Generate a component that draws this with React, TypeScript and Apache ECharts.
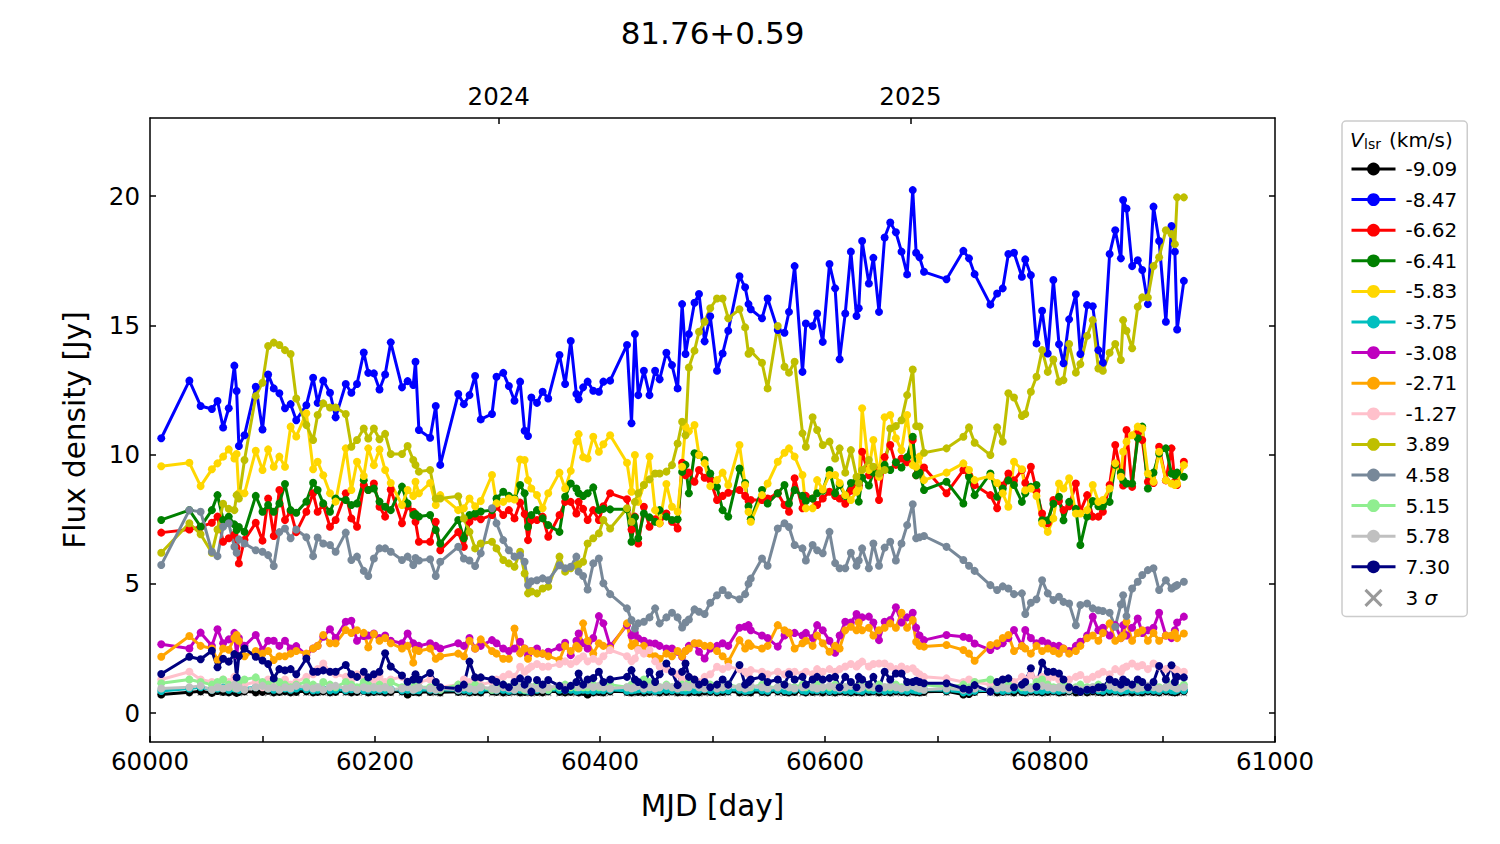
import React, { useEffect, useRef } from "react";
import * as echarts from "echarts";

const FONT = "DejaVu Sans";

const TITLE = "81.76+0.59";
const X_NAME = "MJD [day]";
const Y_NAME = "Flux density [Jy]";
const X_TICKS = [60000, 60100, 60200, 60300, 60400, 60500, 60600, 60700, 60800, 60900, 61000];
const X_LABELS = [60000, 60200, 60400, 60600, 60800, 61000];
const Y_TICKS = [0, 5, 10, 15, 20];
const YEAR_MJD = [60310, 60676];
const YEAR_LABELS = ["2024", "2025"];

const MJD = [
  60010, 60035, 60045, 60055, 60060, 60065, 60070, 60075, 60077, 60079,
  60084, 60094, 60100, 60105, 60110, 60115, 60120, 60125, 60130, 60139,
  60145, 60149, 60154, 60160, 60165, 60174, 60179, 60184, 60190, 60194,
  60199, 60204, 60209, 60214, 60224, 60229, 60234, 60236, 60239, 60249,
  60254, 60258, 60274, 60279, 60284, 60289, 60294, 60304, 60308, 60314,
  60319, 60324, 60329, 60333, 60336, 60339, 60344, 60349, 60354, 60364,
  60369, 60374, 60379, 60381, 60385, 60389, 60394, 60399, 60403, 60409,
  60424, 60428, 60431, 60434, 60439, 60444, 60449, 60453, 60459, 60464,
  60469, 60473, 60476, 60479, 60484, 60488, 60493, 60498, 60504, 60509,
  60514, 60524, 60529, 60532, 60534, 60544, 60549, 60558, 60564, 60568,
  60573, 60580, 60583, 60589, 60593, 60598, 60604, 60609, 60613, 60618,
  60623, 60628, 60630, 60633, 60639, 60643, 60648, 60653, 60658, 60663,
  60668, 60673, 60678, 60681, 60684, 60688, 60708, 60723, 60728, 60733,
  60747, 60753, 60758, 60763, 60768, 60775, 60778, 60783, 60788, 60793,
  60798, 60803, 60808, 60812, 60817, 60823, 60827, 60833, 60838, 60843,
  60847, 60853, 60858, 60863, 60865, 60868, 60873, 60878, 60882, 60887,
  60892, 60897, 60903, 60908, 60911, 60913, 60919,
];

const V_M909 = [
  0.72, 0.8, 0.84, 0.78, 0.85, 0.82, 0.8, 0.84, 0.78, 0.82,
  0.84, 0.8, 0.82, 0.86, 0.8, 0.82, 0.84, 0.8, 0.82, 0.84,
  0.8, 0.82, 0.84, 0.8, 0.82, 0.84, 0.8, 0.82, 0.86, 0.8,
  0.82, 0.84, 0.8, 0.82, 0.84, 0.72, 0.82, 0.84, 0.8, 0.82,
  0.84, 0.8, 0.82, 0.84, 0.8, 0.82, 0.8, 0.84, 0.82, 0.8,
  0.82, 0.84, 0.8, 0.82, 0.84, 0.8, 0.82, 0.8, 0.84, 0.82,
  0.8, 0.82, 0.84, 0.8, 0.82, 0.72, 0.8, 0.82, 0.8, 0.84,
  0.82, 0.8, 0.84, 0.82, 0.8, 0.82, 0.84, 0.8, 0.82, 0.84,
  0.8, 0.82, 0.84, 0.8, 0.82, 0.8, 0.84, 0.82, 0.8, 0.82,
  0.84, 0.8, 0.82, 0.84, 0.8, 0.82, 0.8, 0.84, 0.82, 0.8,
  0.82, 0.84, 0.8, 0.82, 0.84, 0.8, 0.82, 0.8, 0.84, 0.82,
  0.8, 0.82, 0.84, 0.8, 0.82, 0.84, 0.8, 0.82, 0.8, 0.84,
  0.82, 0.8, 0.84, 0.82, 0.8, 0.82, 0.84, 0.72, 0.74, 0.82,
  0.84, 0.8, 0.82, 0.84, 0.8, 0.82, 0.8, 0.84, 0.82, 0.8,
  0.82, 0.84, 0.8, 0.82, 0.84, 0.8, 0.82, 0.8, 0.84, 0.82,
  0.8, 0.82, 0.84, 0.8, 0.82, 0.84, 0.8, 0.82, 0.8, 0.84,
  0.82, 0.8, 0.84, 0.82, 0.8, 0.82, 0.84,
];

const V_M847 = [
  10.63, 12.86, 11.88, 11.76, 12.07, 11.05, 11.79, 13.44, 12.46, 10.33,
  10.75, 12.62, 10.97, 13.1, 12.56, 12.37, 11.79, 11.95, 11.33, 11.91,
  12.97, 12.0, 12.86, 12.39, 11.44, 12.73, 12.39, 12.73, 13.95, 13.16,
  13.14, 12.52, 13.1, 14.34, 12.6, 12.84, 12.69, 13.59, 10.95, 10.65,
  11.88, 9.6, 12.34, 11.95, 12.3, 13.04, 11.36, 11.57, 13.01, 13.16,
  12.65, 12.08, 12.82, 10.92, 10.72, 12.21, 12.0, 12.43, 12.17, 13.85,
  12.73, 14.39, 12.34, 12.14, 12.6, 12.82, 12.47, 12.43, 12.82, 12.86,
  14.24, 11.21, 14.66, 12.3, 13.24, 12.3, 13.24, 12.91, 13.94, 13.46,
  12.56, 15.82, 13.89, 14.66, 15.87, 16.21, 14.38, 15.35, 13.24, 13.91,
  14.79, 16.9, 16.47, 15.82, 15.62, 15.27, 16.04, 14.82, 14.71, 15.52,
  17.29, 13.2, 15.07, 14.97, 15.46, 14.36, 17.37, 16.43, 13.69, 15.46,
  17.85, 15.36, 15.66, 18.26, 16.62, 17.61, 15.52, 18.4, 18.98, 18.6,
  17.85, 16.97, 20.23, 17.81, 17.63, 17.07, 16.78, 17.88, 17.59, 16.98,
  15.8, 16.23, 16.43, 17.76, 17.81, 16.88, 17.55, 16.94, 14.3, 15.56,
  13.91, 16.75, 14.27, 13.53, 15.23, 16.2, 13.89, 15.78, 15.74, 14.04,
  13.55, 17.76, 18.68, 17.59, 19.85, 19.52, 17.29, 17.52, 17.14, 15.82,
  19.59, 18.26, 15.14, 18.84, 17.85, 14.84, 16.72,
];

const V_M662 = [
  6.98, 7.1, 7.2, 7.36, 7.6, 6.63, 6.76, 6.9, 6.4, 5.79,
  6.7, 7.36, 6.67, 8.3, 6.85, 8.63, 7.47, 7.8, 7.0, 7.79,
  8.5, 7.79, 8.05, 7.21, 7.47, 8.5, 7.53, 7.21, 8.82, 8.63,
  8.88, 7.98, 7.6, 8.65, 7.34, 8.0, 7.79, 7.4, 6.63, 6.63,
  7.4, 6.3, 7.0, 6.43, 7.4, 7.6, 7.5, 7.66, 7.98, 7.66,
  7.85, 7.53, 8.14, 7.7, 6.69, 7.47, 7.47, 7.6, 6.82, 7.66,
  8.17, 8.17, 7.72, 8.17, 7.9, 7.47, 7.85, 7.47, 8.0, 8.5,
  8.27, 7.1, 7.6, 6.56, 7.98, 7.21, 7.5, 7.34, 7.72, 7.4,
  7.14, 9.68, 9.2, 9.3, 8.95, 9.4, 9.1, 9.01, 8.24, 8.4,
  8.52, 8.63, 8.4, 8.2, 8.24, 8.24, 8.3, 8.5, 8.05, 7.79,
  9.08, 7.92, 8.4, 8.3, 8.05, 8.3, 8.56, 8.4, 8.3, 8.1,
  8.6, 8.9, 8.8, 10.11, 9.2, 9.5, 8.24, 9.9, 10.37, 9.6,
  9.85, 9.7, 10.56, 9.2, 9.3, 9.5, 8.5, 9.4, 9.2, 8.82,
  8.43, 7.92, 8.8, 9.27, 9.0, 9.4, 8.9, 9.53, 8.6, 7.72,
  7.34, 8.24, 8.2, 7.85, 8.0, 8.88, 7.8, 8.43, 7.6, 7.6,
  7.79, 8.82, 10.37, 9.27, 8.8, 10.95, 8.75, 10.82, 10.56, 8.95,
  8.9, 10.3, 9.0, 10.24, 8.95, 8.82, 9.72,
];

const V_M641 = [
  7.47, 7.85, 7.21, 7.85, 8.43, 7.47, 7.6, 7.3, 7.08, 7.2,
  7.01, 8.4, 7.79, 8.05, 7.79, 8.11, 8.86, 7.85, 7.75, 8.18,
  8.91, 8.63, 8.11, 7.79, 8.3, 8.24, 8.05, 8.11, 9.01, 8.63,
  8.69, 8.18, 7.98, 7.85, 8.76, 8.11, 7.66, 7.7, 7.6, 7.66,
  7.08, 6.56, 7.47, 6.76, 7.66, 7.72, 7.8, 7.85, 8.3, 8.56,
  8.4, 8.3, 8.82, 8.5, 7.21, 7.66, 7.85, 7.53, 7.27, 7.01,
  8.37, 8.88, 8.69, 8.5, 8.4, 8.5, 8.73, 7.85, 7.9, 7.88,
  7.88, 6.63, 7.57, 6.76, 7.72, 7.57, 7.4, 7.85, 7.6, 7.47,
  7.5, 9.33, 9.6, 8.5, 10.05, 9.98, 9.79, 9.27, 8.75, 7.85,
  7.6, 9.46, 8.9, 8.0, 7.5, 8.63, 8.11, 8.5, 8.82, 8.11,
  8.63, 8.4, 8.2, 8.3, 8.5, 8.6, 9.4, 8.5, 8.82, 8.4,
  8.9, 9.0, 8.18, 9.1, 8.8, 9.3, 9.2, 9.6, 9.4, 9.7,
  9.5, 9.9, 10.69, 9.2, 9.3, 8.63, 8.95, 8.11, 9.14, 8.43,
  9.27, 8.37, 8.69, 9.0, 8.82, 8.17, 8.5, 8.75, 8.82, 7.46,
  7.46, 8.1, 8.37, 7.46, 8.17, 7.9, 6.5, 7.6, 8.2, 8.0,
  8.0, 8.17, 9.6, 9.3, 9.0, 8.88, 8.88, 10.63, 11.08, 8.69,
  9.3, 10.04, 10.24, 9.27, 9.2, 9.3, 9.14,
];

const V_M583 = [
  9.55, 9.68, 8.78, 9.43, 9.66, 9.92, 10.2, 9.85, 10.02, 8.5,
  8.5, 10.15, 9.4, 10.2, 9.53, 9.92, 9.53, 11.08, 10.7, 11.6,
  9.43, 9.72, 9.2, 8.5, 8.18, 10.24, 8.63, 9.72, 9.17, 10.24,
  9.59, 10.2, 9.4, 8.9, 8.05, 8.63, 8.4, 8.95, 8.5, 8.9,
  8.05, 8.43, 7.85, 7.92, 8.3, 8.0, 8.2, 9.21, 8.11, 8.17,
  8.3, 8.26, 9.81, 9.79, 9.01, 8.69, 8.43, 7.92, 8.5, 9.3,
  8.69, 9.37, 10.5, 10.79, 9.9, 9.85, 10.69, 10.11, 10.4, 10.75,
  9.68, 8.56, 9.98, 8.17, 8.82, 9.92, 7.85, 7.34, 8.86, 7.98,
  7.79, 9.53, 11.08, 10.9, 11.14, 9.98, 9.66, 8.78, 9.01, 9.3,
  8.82, 10.37, 8.82, 7.79, 7.4, 8.43, 8.88, 9.72, 10.07, 10.24,
  9.92, 9.21, 7.92, 7.92, 9.01, 8.65, 9.21, 9.21, 8.9, 8.43,
  8.24, 8.56, 8.7, 11.79, 9.4, 10.56, 9.14, 11.44, 11.53, 10.63,
  10.17, 11.53, 9.59, 9.53, 9.92, 9.01, 9.3, 9.66, 9.4, 9.01,
  9.17, 8.9, 8.5, 7.98, 9.72, 9.43, 8.62, 8.69, 8.4, 7.34,
  7.01, 7.53, 8.88, 8.69, 9.08, 7.72, 7.72, 7.85, 8.82, 8.17,
  8.24, 8.69, 9.66, 9.14, 10.11, 10.5, 10.75, 11.08, 11.01, 9.27,
  8.95, 10.11, 9.01, 8.88, 8.82, 8.88, 9.59,
];

const V_M375 = [
  0.85, 0.95, 1.0, 0.9, 0.95, 1.0, 0.9, 0.95, 1.0, 0.9,
  0.95, 1.0, 1.02, 0.95, 0.9, 1.0, 0.95, 0.9, 0.95, 0.92,
  0.88, 0.9, 0.92, 0.88, 0.9, 0.88, 0.92, 0.9, 0.88, 0.9,
  0.88, 0.9, 0.88, 0.92, 0.88, 0.9, 0.88, 0.9, 0.88, 0.9,
  0.88, 0.9, 0.88, 0.9, 0.86, 0.9, 0.88, 0.9, 0.88, 0.9,
  0.86, 0.88, 0.9, 0.88, 0.86, 0.88, 0.9, 0.92, 0.88, 0.9,
  0.88, 0.9, 0.86, 0.88, 0.9, 0.88, 0.86, 0.9, 0.88, 0.9,
  0.86, 0.88, 0.9, 0.92, 0.88, 0.9, 0.86, 0.88, 0.9, 0.88,
  0.9, 0.88, 0.86, 0.9, 0.88, 0.9, 0.92, 0.88, 0.86, 0.9,
  0.88, 0.9, 0.86, 0.88, 0.9, 0.88, 0.86, 0.9, 0.88, 0.86,
  0.9, 0.88, 0.86, 0.9, 0.88, 0.9, 0.86, 0.88, 0.9, 0.88,
  0.86, 0.9, 0.88, 0.86, 0.9, 0.88, 0.9, 0.86, 0.88, 0.9,
  0.88, 0.86, 0.9, 0.88, 0.86, 0.9, 0.88, 0.8, 0.82, 0.86,
  0.88, 0.9, 0.86, 0.88, 0.9, 0.88, 0.86, 0.9, 0.88, 0.86,
  0.9, 0.88, 0.86, 0.9, 0.88, 0.9, 0.86, 0.88, 0.9, 0.88,
  0.86, 0.9, 0.88, 0.86, 0.9, 0.88, 0.9, 0.86, 0.88, 0.9,
  0.88, 0.86, 0.9, 0.88, 0.86, 0.9, 0.88,
];

const V_M308 = [
  2.66, 2.5, 3.11, 2.6, 3.24, 2.7, 2.85, 3.1, 2.24, 2.9,
  2.6, 3.02, 2.44, 2.8, 2.8, 2.6, 2.8, 2.5, 2.59, 2.24,
  2.5, 2.6, 2.95, 3.24, 2.9, 3.53, 3.57, 2.8, 2.98, 3.0,
  3.08, 2.9, 3.0, 2.8, 2.7, 3.08, 2.7, 2.6, 2.6, 2.7,
  2.6, 2.5, 2.7, 2.6, 2.9, 2.5, 2.6, 2.82, 2.7, 2.5,
  2.4, 2.5, 2.76, 2.5, 2.24, 2.4, 2.5, 2.3, 2.37, 2.54,
  2.72, 2.24, 2.8, 3.08, 2.7, 2.5, 2.9, 3.75, 3.47, 2.59,
  3.4, 3.0, 3.1, 2.89, 2.8, 2.7, 2.69, 2.6, 2.5, 2.5,
  2.37, 2.18, 2.4, 2.6, 2.69, 2.37, 2.11, 2.5, 2.6, 2.7,
  2.6, 3.3, 3.34, 3.4, 3.2, 3.0, 2.9, 2.57, 3.0, 3.1,
  3.1, 3.0, 3.1, 2.9, 3.4, 3.2, 2.8, 2.33, 3.0, 3.53,
  3.5, 3.83, 3.6, 3.7, 3.73, 3.5, 2.82, 3.53, 3.6, 4.09,
  3.5, 3.7, 3.88, 3.3, 3.0, 2.82, 3.02, 2.95, 2.9, 2.69,
  2.44, 2.6, 2.7, 2.9, 3.21, 2.6, 3.21, 2.9, 2.7, 2.8,
  2.7, 2.6, 2.6, 2.5, 2.4, 2.6, 2.76, 3.0, 3.73, 3.2,
  3.3, 3.0, 3.4, 2.9, 3.4, 3.0, 3.3, 3.66, 3.1, 3.2,
  3.3, 3.88, 3.0, 2.9, 3.2, 3.5, 3.73,
];

const V_M271 = [
  2.18, 2.98, 2.6, 2.5, 2.05, 2.5, 2.45, 2.9, 3.02, 2.8,
  2.2, 2.4, 2.3, 2.4, 2.05, 2.2, 2.2, 2.3, 2.4, 2.3,
  2.5, 2.6, 3.02, 2.7, 2.7, 3.21, 3.1, 3.2, 3.1, 2.54,
  3.06, 2.8, 2.9, 2.7, 2.5, 2.6, 1.95, 2.44, 2.4, 2.5,
  2.1, 2.2, 2.3, 2.2, 2.8, 2.5, 2.85, 2.4, 2.3, 2.1,
  2.1, 3.27, 2.31, 2.5, 2.1, 2.4, 2.3, 2.3, 2.2, 2.05,
  2.6, 2.4, 2.6, 2.5, 3.47, 2.8, 2.3, 2.7, 2.6, 2.5,
  3.47, 2.6, 2.7, 2.5, 2.6, 2.3, 2.2, 2.1, 2.3, 2.2,
  2.4, 2.2, 2.4, 2.5, 2.7, 2.7, 2.6, 2.6, 2.4, 2.2,
  1.99, 2.82, 2.5, 2.7, 2.6, 2.5, 2.6, 3.4, 3.2, 3.1,
  2.5, 2.7, 2.8, 2.6, 3.0, 2.7, 2.37, 2.6, 2.5, 3.2,
  3.34, 3.2, 3.5, 3.2, 3.3, 3.0, 3.2, 3.3, 3.47, 3.3,
  3.88, 3.3, 3.6, 2.76, 2.6, 2.57, 2.63, 2.44, 2.3, 2.02,
  2.63, 2.7, 2.9, 3.02, 2.4, 2.6, 2.5, 2.3, 2.6, 2.4,
  2.5, 2.4, 2.3, 2.5, 2.3, 2.4, 2.6, 2.9, 3.0, 2.8,
  3.1, 3.47, 2.8, 2.9, 3.0, 3.53, 2.8, 3.1, 3.2, 2.8,
  3.1, 2.8, 3.0, 3.0, 3.1, 2.9, 3.08,
];

const V_M127 = [
  1.3, 1.6, 1.3, 1.2, 1.1, 1.3, 1.2, 1.4, 1.3, 1.2,
  1.1, 1.2, 1.0, 1.3, 1.1, 1.2, 1.3, 1.1, 1.2, 1.4,
  1.5, 1.7, 1.92, 1.6, 1.5, 1.4, 1.3, 1.5, 1.4, 1.3,
  1.2, 1.4, 1.2, 1.3, 1.4, 1.2, 1.3, 1.1, 1.2, 1.3,
  1.2, 1.0, 1.1, 1.3, 1.2, 1.3, 1.1, 1.2, 1.3, 1.4,
  1.5, 1.4, 1.79, 1.6, 1.7, 1.8, 1.9, 1.79, 1.8, 1.9,
  2.0, 1.9, 2.0, 2.1, 2.2, 2.0, 2.1, 2.0, 2.2, 2.44,
  2.2, 2.0, 2.11, 2.44, 2.3, 2.44, 2.0, 1.8, 1.7, 1.6,
  1.5, 1.3, 1.2, 1.4, 1.3, 1.2, 1.4, 1.5, 1.79, 1.7,
  1.79, 1.7, 1.6, 1.5, 1.66, 1.6, 1.5, 1.6, 1.5, 1.6,
  1.6, 1.5, 1.6, 1.5, 1.7, 1.6, 1.7, 1.6, 1.7, 1.8,
  1.9, 1.8, 1.9, 1.99, 1.8, 1.9, 1.92, 1.92, 1.8, 1.7,
  1.8, 1.7, 1.73, 1.6, 1.5, 1.4, 1.34, 1.2, 1.3, 1.2,
  1.1, 1.2, 1.3, 1.3, 1.2, 1.4, 1.3, 1.47, 1.3, 1.4,
  1.3, 1.4, 1.3, 1.2, 1.3, 1.4, 1.47, 1.3, 1.4, 1.5,
  1.6, 1.5, 1.7, 1.6, 1.73, 1.8, 1.92, 1.8, 1.86, 1.7,
  1.92, 1.8, 1.7, 1.79, 1.7, 1.66, 1.6,
];

const V_P389 = [
  6.2, 7.34, 6.92, 6.2, 7.1, 8.1, 7.9, 7.85, 8.43, 8.3,
  9.79, 12.26, 12.78, 14.2, 14.33, 14.24, 14.04, 13.89, 12.17, 11.14,
  10.56, 11.53, 11.98, 11.82, 11.82, 11.57, 10.3, 10.56, 11.01, 10.62,
  11.01, 10.59, 10.8, 10.02, 10.02, 10.33, 9.79, 9.6, 9.34, 9.4,
  8.3, 8.3, 8.39, 7.53, 7.01, 6.37, 6.56, 6.63, 6.37, 5.92,
  5.79, 5.66, 6.24, 5.4, 4.63, 4.7, 4.63, 4.82, 4.89, 6.05,
  5.47, 5.6, 5.7, 5.75, 5.85, 6.56, 6.76, 6.95, 7.47, 7.14,
  7.92, 7.4, 8.17, 8.5, 8.82, 9.04, 9.27, 9.27, 9.34, 9.59,
  10.43, 11.27, 10.75, 13.37, 14.02, 14.75, 15.14, 15.66, 16.04, 16.04,
  15.27, 15.62, 14.92, 13.9, 14.0, 13.55, 12.56, 14.97, 13.4, 13.17,
  13.59, 10.82, 10.3, 11.44, 10.95, 10.37, 10.5, 9.85, 10.24, 9.3,
  10.17, 9.14, 8.89, 9.4, 9.79, 9.53, 9.27, 9.4, 11.01, 11.1,
  11.33, 12.3, 13.29, 11.1, 11.08, 10.07, 10.24, 10.69, 11.05, 10.46,
  9.98, 11.05, 10.5, 12.37, 12.21, 11.49, 11.57, 12.43, 13.01, 14.04,
  13.2, 13.68, 12.82, 12.88, 14.28, 13.17, 13.5, 14.59, 15.2, 13.33,
  13.24, 13.94, 14.28, 13.66, 15.2, 14.79, 14.11, 15.72, 16.08, 16.08,
  17.29, 17.63, 18.68, 18.53, 18.14, 19.95, 19.95,
];

const V_P458 = [
  5.73, 7.85, 7.79, 6.24, 6.07, 7.21, 7.34, 6.43, 6.2, 6.72,
  6.56, 6.3, 6.24, 6.11, 5.69, 7.0, 7.14, 6.76, 7.1, 6.8,
  6.07, 6.79, 6.56, 6.5, 6.24, 6.98, 5.92, 6.05, 5.5, 5.3,
  5.98, 6.37, 6.37, 6.24, 5.92, 6.05, 5.73, 6.0, 5.9, 5.95,
  5.3, 5.85, 6.43, 5.98, 5.9, 5.69, 6.18, 7.92, 7.34, 6.69,
  6.3, 6.05, 6.1, 5.85, 4.95, 5.1, 5.14, 5.21, 5.14, 5.72,
  5.6, 5.66, 6.05, 5.47, 5.3, 4.78, 5.79, 5.98, 5.02, 4.6,
  4.05, 3.6, 3.27, 3.47, 3.53, 3.7, 4.05, 3.47, 3.7, 3.88,
  3.7, 3.31, 3.5, 3.62, 4.01, 3.92, 3.83, 4.27, 4.56, 4.76,
  4.56, 4.4, 4.6, 5.0, 5.2, 5.98, 5.7, 7.14, 7.34, 7.2,
  6.5, 6.37, 5.9, 6.5, 6.3, 6.18, 7.01, 5.8, 5.6, 5.6,
  6.2, 5.7, 5.9, 6.37, 5.6, 6.56, 5.7, 6.4, 6.63, 5.9,
  6.56, 7.27, 8.08, 6.76, 6.8, 6.85, 6.43, 5.92, 5.7, 5.5,
  4.95, 4.76, 4.9, 4.82, 4.6, 4.63, 3.83, 4.27, 4.4, 5.14,
  4.63, 4.37, 4.5, 4.3, 4.24, 3.4, 4.18, 4.24, 4.05, 3.98,
  3.95, 3.88, 3.34, 4.2, 4.56, 3.75, 4.82, 5.08, 5.34, 5.53,
  5.6, 4.76, 5.14, 4.82, 4.9, 4.95, 5.08,
];

const V_P515 = [
  1.15, 1.3, 1.2, 1.1, 1.2, 1.3, 1.1, 1.0, 1.1, 1.2,
  1.3, 1.38, 1.2, 1.1, 1.3, 1.2, 1.1, 1.0, 1.1, 1.2,
  1.1, 1.0, 1.2, 1.1, 1.0, 1.2, 1.1, 1.0, 1.2, 1.1,
  1.0, 1.1, 1.0, 1.2, 1.0, 1.1, 1.0, 1.1, 1.0, 1.0,
  1.0, 0.9, 1.1, 1.0, 1.0, 1.1, 1.0, 0.9, 1.0, 1.1,
  1.0, 1.1, 1.0, 0.9, 1.0, 1.0, 1.1, 1.0, 0.9, 1.0,
  1.1, 1.0, 1.0, 1.1, 1.0, 1.0, 1.1, 1.0, 1.0, 1.1,
  1.0, 1.1, 1.0, 1.1, 1.3, 1.2, 1.1, 1.0, 1.1, 1.0,
  1.0, 1.1, 1.0, 1.2, 1.1, 1.0, 1.0, 1.1, 1.0, 1.0,
  1.1, 1.0, 1.0, 1.1, 1.0, 1.1, 1.0, 1.0, 1.1, 1.0,
  1.0, 1.1, 1.0, 1.0, 1.1, 1.0, 1.0, 1.1, 1.0, 1.0,
  1.1, 1.0, 1.0, 1.1, 1.0, 1.0, 1.1, 1.0, 1.0, 1.1,
  1.0, 1.0, 1.1, 1.0, 1.0, 1.1, 1.0, 1.1, 1.0, 1.2,
  1.3, 1.0, 1.0, 1.1, 1.0, 1.0, 1.1, 1.0, 1.2, 1.3,
  1.1, 1.0, 1.0, 1.1, 1.0, 1.0, 1.1, 1.0, 1.0, 1.1,
  1.0, 1.1, 1.0, 1.0, 1.1, 1.2, 1.0, 1.1, 1.0, 1.0,
  1.1, 1.0, 1.0, 1.1, 1.0, 1.0, 1.1,
];

const V_P578 = [
  0.95, 1.0, 1.05, 0.9, 1.0, 0.95, 1.0, 1.1, 0.95, 1.0,
  0.9, 1.0, 1.05, 0.95, 1.0, 0.9, 1.0, 0.95, 1.05, 1.0,
  0.95, 1.0, 0.9, 1.0, 1.05, 0.95, 1.0, 0.9, 1.0, 0.95,
  1.0, 0.95, 1.0, 0.9, 0.95, 1.0, 0.9, 0.95, 1.0, 0.95,
  0.9, 0.95, 0.9, 1.0, 0.95, 0.9, 1.0, 0.95, 0.9, 1.0,
  0.95, 0.9, 1.0, 0.95, 0.9, 1.0, 0.95, 0.9, 1.0, 1.05,
  1.0, 1.05, 1.1, 1.0, 1.05, 1.1, 1.0, 1.05, 1.0, 0.95,
  1.0, 0.95, 1.0, 1.05, 0.95, 1.0, 0.95, 1.0, 1.05, 1.0,
  0.95, 1.0, 1.05, 1.0, 1.1, 1.0, 0.95, 1.0, 0.95, 1.0,
  1.05, 1.0, 0.95, 1.0, 1.05, 1.0, 0.95, 1.0, 1.05, 1.0,
  0.95, 1.0, 1.05, 1.0, 0.95, 1.0, 1.05, 1.0, 0.95, 1.0,
  1.05, 1.0, 0.95, 1.0, 1.05, 1.0, 0.95, 1.0, 1.05, 1.0,
  0.95, 1.0, 1.05, 1.0, 0.95, 0.9, 0.95, 0.9, 0.9, 0.95,
  0.9, 0.95, 1.0, 0.95, 1.0, 1.05, 1.0, 0.95, 1.0, 1.05,
  1.0, 0.95, 1.0, 0.95, 0.9, 0.95, 0.9, 0.95, 1.0, 0.95,
  1.0, 1.05, 1.0, 0.95, 1.0, 1.05, 1.0, 0.95, 1.0, 1.05,
  1.0, 0.95, 1.0, 1.05, 1.0, 0.95, 1.0,
];

const V_P730 = [
  1.51, 2.18, 2.08, 2.41, 1.77, 2.1, 1.99, 2.28, 1.38, 2.2,
  2.5, 2.18, 2.03, 1.9, 1.34, 1.7, 1.65, 1.7, 1.5, 2.11,
  1.6, 1.6, 1.65, 1.6, 1.6, 1.86, 1.5, 1.4, 1.6, 1.38,
  1.5, 1.6, 2.31, 1.8, 1.45, 1.21, 1.3, 1.5, 1.3, 1.55,
  1.2, 1.0, 0.95, 1.1, 1.99, 1.38, 1.38, 1.3, 1.2, 1.1,
  1.0, 1.2, 1.34, 1.1, 1.3, 0.83, 1.28, 1.1, 1.28, 1.05,
  0.89, 1.05, 1.2, 1.53, 1.1, 1.3, 1.35, 1.6, 1.2, 1.3,
  1.4, 1.66, 1.3, 1.2, 1.1, 1.6, 1.2, 1.5, 1.92, 1.6,
  1.08, 1.6, 1.92, 1.4, 1.3, 1.1, 1.2, 1.0, 1.1, 1.3,
  1.1, 1.86, 1.1, 1.2, 1.3, 1.4, 1.2, 1.3, 1.1, 1.5,
  1.3, 1.4, 1.1, 1.3, 1.4, 1.3, 1.35, 1.4, 1.0, 1.4,
  1.2, 1.0, 1.4, 1.3, 1.1, 1.4, 0.95, 1.6, 1.3, 1.53,
  1.53, 1.2, 1.2, 1.25, 1.2, 1.15, 1.15, 0.95, 0.9, 1.08,
  0.83, 1.2, 1.3, 1.34, 1.0, 1.1, 1.2, 1.73, 1.02, 1.95,
  1.6, 1.6, 1.53, 1.3, 1.0, 0.9, 0.83, 0.9, 0.9, 1.0,
  1.0, 1.3, 1.2, 1.1, 1.3, 1.2, 1.1, 1.3, 1.2, 1.0,
  1.2, 1.82, 1.3, 1.85, 1.2, 1.4, 1.38,
];

const V_SIGMA3 = [
  0.78, 0.8, 0.79, 0.77, 0.8, 0.78, 0.79, 0.8, 0.78, 0.77,
  0.79, 0.78, 0.8, 0.77, 0.79, 0.78, 0.8, 0.79, 0.77, 0.78,
  0.8, 0.78, 0.79, 0.77, 0.8, 0.78, 0.79, 0.8, 0.78, 0.77,
  0.79, 0.78, 0.8, 0.77, 0.79, 0.78, 0.8, 0.79, 0.77, 0.78,
  0.77, 0.76, 0.78, 0.77, 0.76, 0.78, 0.77, 0.76, 0.78, 0.77,
  0.76, 0.78, 0.77, 0.76, 0.78, 0.77, 0.76, 0.78, 0.77, 0.76,
  0.78, 0.77, 0.76, 0.78, 0.77, 0.76, 0.78, 0.77, 0.76, 0.78,
  0.77, 0.76, 0.78, 0.77, 0.76, 0.78, 0.77, 0.76, 0.78, 0.77,
  0.76, 0.78, 0.77, 0.76, 0.78, 0.77, 0.76, 0.78, 0.77, 0.76,
  0.78, 0.77, 0.76, 0.78, 0.77, 0.76, 0.78, 0.77, 0.76, 0.78,
  0.77, 0.76, 0.78, 0.77, 0.76, 0.78, 0.77, 0.76, 0.78, 0.77,
  0.76, 0.78, 0.77, 0.76, 0.78, 0.77, 0.76, 0.78, 0.77, 0.76,
  0.78, 0.77, 0.76, 0.78, 0.77, 0.76, 0.78, 0.77, 0.76, 0.78,
  0.77, 0.76, 0.78, 0.77, 0.76, 0.78, 0.77, 0.76, 0.78, 0.77,
  0.76, 0.78, 0.77, 0.76, 0.78, 0.77, 0.76, 0.78, 0.77, 0.76,
  0.78, 0.77, 0.76, 0.78, 0.77, 0.76, 0.78, 0.77, 0.76, 0.78,
  0.77, 0.76, 0.78, 0.77, 0.76, 0.78, 0.77,
];

const SERIES_NAMES = ["-9.09", "-8.47", "-6.62", "-6.41", "-5.83", "-3.75", "-3.08", "-2.71", "-1.27", "3.89", "4.58", "5.15", "5.78", "7.30"];
const SERIES_VALUES = [V_M909, V_M847, V_M662, V_M641, V_M583, V_M375, V_M308, V_M271, V_M127, V_P389, V_P458, V_P515, V_P578, V_P730];
const SERIES_COLORS = ["#000000", "#0000ff", "#ff0000", "#008000", "#ffd700", "#00bfbf", "#bf00bf", "#ffa500", "#ffc0cb", "#bfbf00", "#778899", "#90ee90", "#c0c0c0", "#000080"];
const SIGMA_NAME = "3σ";

export default function App() {
  const ref = useRef<HTMLDivElement>(null);

  useEffect(() => {
    document.body.style.margin = "0";
    const chart = echarts.init(ref.current as HTMLDivElement, null, { renderer: "svg" });
    const toData = (vals: number[]) => MJD.map((m, i) => [m, vals[i]]);

    const lineSeries = SERIES_NAMES.map((name, k) => ({
      type: "line",
      name,
      data: toData(SERIES_VALUES[k]),
      xAxisIndex: 0,
      yAxisIndex: 0,
      symbol: "circle",
      symbolSize: 8,
      showSymbol: true,
      lineStyle: { width: 3, color: SERIES_COLORS[k] },
      itemStyle: { color: SERIES_COLORS[k] },
      emphasis: { disabled: true },
      clip: true,
    }));

    const sigmaSeries = {
      type: "scatter",
      name: SIGMA_NAME,
      data: toData(V_SIGMA3),
      xAxisIndex: 0,
      yAxisIndex: 0,
      symbol: "path://M0,0L10,10M10,0L0,10",
      symbolSize: 6,
      itemStyle: { color: "#808080", borderColor: "#808080", borderWidth: 1.3 },
      emphasis: { disabled: true },
    };

    const axisLine = { show: true, onZero: false, lineStyle: { color: "#000", width: 1.5 } };
    const tickStyle = { color: "#000", width: 1.5 };
    const labelStyle = { color: "#000", fontFamily: FONT, fontSize: 24.5 };

    const option = {
      animation: false,
      backgroundColor: "#ffffff",
      grid: { left: 150, top: 118, width: 1125, height: 624, outerBoundsMode: "none", containLabel: false },
      xAxis: [
        {
          type: "value",
          position: "bottom",
          min: 60000,
          max: 61000,
          axisLine,
          axisTick: { show: true, inside: true, length: 6, lineStyle: tickStyle, customValues: X_TICKS },
          axisLabel: { ...labelStyle, margin: 7, customValues: X_LABELS, formatter: (v: number) => String(v) },
          splitLine: { show: false },
          name: X_NAME,
          nameLocation: "middle",
          nameGap: 49,
          nameTextStyle: { color: "#000", fontFamily: FONT, fontSize: 29.5 },
        },
        {
          type: "value",
          position: "top",
          min: 60000,
          max: 61000,
          axisLine,
          axisTick: { show: true, inside: true, length: 6, lineStyle: tickStyle, customValues: YEAR_MJD },
          axisLabel: {
            ...labelStyle,
            margin: 9,
            customValues: YEAR_MJD,
            formatter: (v: number) => YEAR_LABELS[YEAR_MJD.indexOf(v)] ?? "",
          },
          splitLine: { show: false },
        },
      ],
      yAxis: [
        {
          type: "value",
          position: "left",
          min: -1.12,
          max: 23.02,
          axisLine,
          axisTick: { show: true, inside: true, length: 6, lineStyle: tickStyle, customValues: Y_TICKS },
          axisLabel: { ...labelStyle, margin: 10, customValues: Y_TICKS, formatter: (v: number) => String(v) },
          splitLine: { show: false },
          name: Y_NAME,
          nameLocation: "middle",
          nameGap: 60,
          nameTextStyle: { color: "#000", fontFamily: FONT, fontSize: 29.5 },
        },
        {
          type: "value",
          position: "right",
          min: -1.12,
          max: 23.02,
          axisLine,
          axisTick: { show: true, inside: true, length: 6, lineStyle: tickStyle, customValues: Y_TICKS },
          axisLabel: { show: false },
          splitLine: { show: false },
        },
      ],
      legend: {
        orient: "vertical",
        left: 1342,
        top: 121,
        padding: [38, 10, 8, 7],
        itemWidth: 44,
        itemHeight: 16,
        itemGap: 10.6,
        selectedMode: false,
        backgroundColor: "#ffffff",
        borderColor: "#cccccc",
        borderWidth: 1.5,
        borderRadius: 4,
        lineStyle: { width: 3 },
        textStyle: {
          color: "#000",
          fontFamily: FONT,
          fontSize: 20,
          lineHeight: 20,
          padding: [0, 0, 0, 5],
          rich: { i: { fontStyle: "italic", fontFamily: FONT, fontSize: 20, lineHeight: 20, color: "#000" } },
        },
        formatter: (n: string) => (n === SIGMA_NAME ? "3 {i|σ}" : n),
        data: [
          ...SERIES_NAMES.map((n) => ({ name: n })),
          {
            name: SIGMA_NAME,
            icon: "path://M0,0M44,16M14,0L30,16M30,0L14,16",
            itemStyle: { color: "none", borderColor: "#808080", borderWidth: 3 },
          },
        ],
      },
      graphic: [
        {
          type: "text",
          x: 712.5,
          y: 33,
          z: 100,
          style: { text: TITLE, fill: "#000", fontFamily: FONT, fontSize: 31, align: "center", verticalAlign: "middle", textAlign: "center", textVerticalAlign: "middle" },
        },
        {
          type: "text",
          x: 1350,
          y: 140,
          z: 100,
          style: { text: "V", fill: "#000", fontFamily: FONT, fontSize: 20, fontStyle: "italic", align: "left", verticalAlign: "middle", textAlign: "left", textVerticalAlign: "middle" },
        },
        {
          type: "text",
          x: 1364,
          y: 144,
          z: 100,
          style: { text: "lsr", fill: "#000", fontFamily: FONT, fontSize: 14, align: "left", verticalAlign: "middle", textAlign: "left", textVerticalAlign: "middle" },
        },
        {
          type: "text",
          x: 1389,
          y: 140,
          z: 100,
          style: { text: "(km/s)", fill: "#000", fontFamily: FONT, fontSize: 20, align: "left", verticalAlign: "middle", textAlign: "left", textVerticalAlign: "middle" },
        },
      ],
      series: [...lineSeries, sigmaSeries],
    };

    chart.setOption(option as any);
    return () => chart.dispose();
  }, []);

  return <div ref={ref} style={{ width: 1500, height: 844 }} />;
}
